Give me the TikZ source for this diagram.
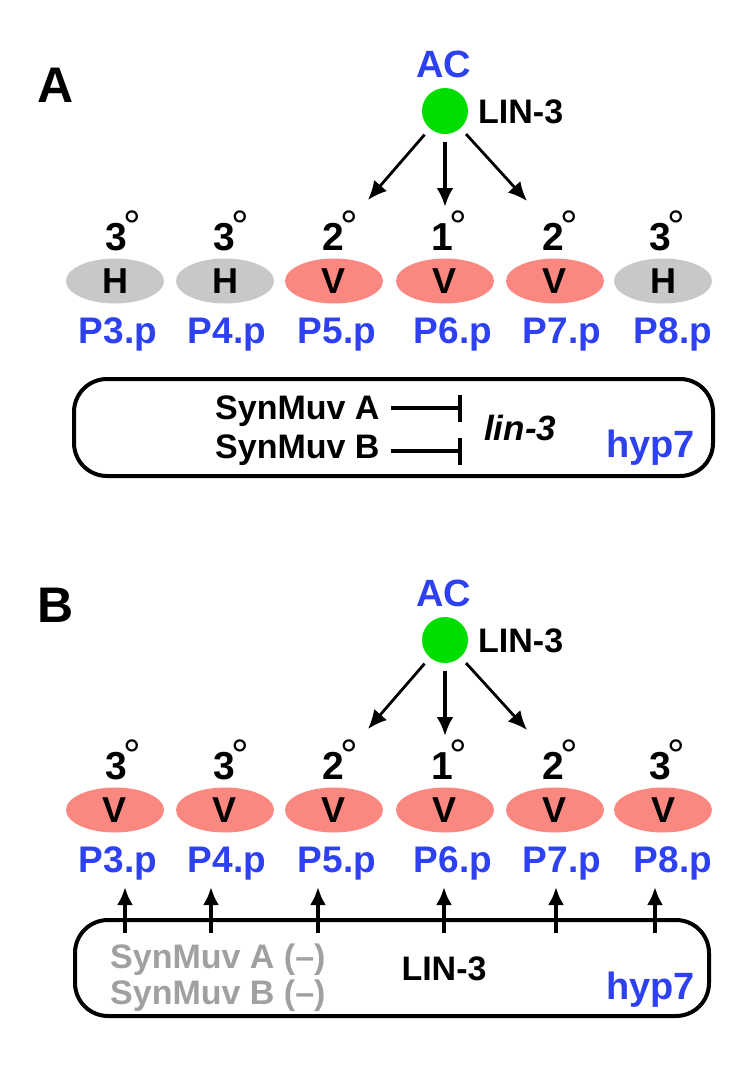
\documentclass[tikz,border=0pt]{standalone}
\usepackage{fontspec}
\setmainfont{Liberation Sans}
\usetikzlibrary{arrows.meta,shapes.geometric}
\definecolor{blu}{RGB}{45,65,240}
\definecolor{grn}{RGB}{0,222,0}
\definecolor{pnk}{RGB}{250,135,128}
\definecolor{gry}{RGB}{200,200,200}
\definecolor{gtx}{RGB}{160,160,160}
\newcommand{\dg}{\kern-4pt\raisebox{9pt}{\fontsize{44}{44}\selectfont\mdseries °}}
\begin{document}
\begin{tikzpicture}[x=1pt,y=-1pt,
  plabel/.style={text=blu, font=\fontsize{37}{40}\selectfont\bfseries, inner sep=0, anchor=base},
  panel/.style={font=\fontsize{50}{52}\selectfont\bfseries, inner sep=0},
  deg/.style={font=\fontsize{39}{40}\selectfont\bfseries, inner sep=0, anchor=base},
  cellbase/.style={ellipse, minimum width=98pt, minimum height=45pt, inner sep=0, font=\fontsize{36}{38}\selectfont\bfseries},
  hcell/.style={cellbase, fill=gry},
  vcell/.style={cellbase, fill=pnk},
  txt/.style={font=\fontsize{34}{36}\selectfont\bfseries, inner sep=0},
  blutxt/.style={text=blu, font=\fontsize{38}{40}\selectfont\bfseries, inner sep=0},
  accell/.style={circle, fill=grn, minimum size=46pt, inner sep=0},
  sig/.style={-{Latex[length=19pt,width=17pt]}, line width=2.8pt, shorten <=8pt},
  sigm/.style={-{Latex[length=19pt,width=17pt]}, line width=3.8pt, shorten <=8pt},
  uparr/.style={-{Latex[length=18pt,width=16pt]}, line width=4pt},
  inh/.style={-{Bar[width=27pt,line width=4pt]}, line width=4pt},
  hypbox/.style={draw, line width=4pt, rounded corners=33pt, inner sep=0}
]
\useasboundingbox (0,0) rectangle (750,1074);

% ---------- Panel A ----------
\node[panel] (labA) at (56,85) {A};
\node[blutxt] (acA) at (444,64) {AC};
\node[accell] (cA) at (445,111) {};
\node[txt, anchor=west] (linA) at (478,112) {LIN-3};
\coordinate (tAl) at (368,200);
\coordinate (tAm) at (445,207);
\coordinate (tAr) at (527,201);
\draw[sig] (cA) -- (tAl);
\draw[sigm] (cA) -- (tAm);
\draw[sig] (cA) -- (tAr);

\node[deg] (dA3) at (123,250) {3\dg};
\node[deg] (dA4) at (231,250) {3\dg};
\node[deg] (dA5) at (340,250) {2\dg};
\node[deg] (dA6) at (449,250) {1\dg};
\node[deg] (dA7) at (560,250) {2\dg};
\node[deg] (dA8) at (667,250) {3\dg};

\node[hcell] (eA3) at (115,281) {H};
\node[hcell] (eA4) at (225,281) {H};
\node[vcell] (eA5) at (334,281) {V};
\node[vcell] (eA6) at (445,281) {V};
\node[vcell] (eA7) at (555,281) {V};
\node[hcell] (eA8) at (663,281) {H};

\node[plabel] (pA3) at (118,343) {P3.p};
\node[plabel] (pA4) at (227,343) {P4.p};
\node[plabel] (pA5) at (337,343) {P5.p};
\node[plabel] (pA6) at (453,343) {P6.p};
\node[plabel] (pA7) at (562,343) {P7.p};
\node[plabel] (pA8) at (673,343) {P8.p};

\node[hypbox, minimum width=639pt, minimum height=97pt] (boxA) at (393.5,427.5) {};
\node[txt, anchor=base west] (smA) at (215,419) {SynMuv A};
\node[txt, anchor=base west] (smB) at (215,458) {SynMuv B};
\coordinate (iA1) at (391,408);
\coordinate (iA2) at (462,408);
\coordinate (iB1) at (391,451);
\coordinate (iB2) at (462,451);
\draw[inh] (iA1) -- (iA2);
\draw[inh] (iB1) -- (iB2);
\node[txt, anchor=base west, font=\fontsize{35}{36}\selectfont\bfseries\itshape] (lin3g) at (484,440) {lin-3};
\node[blutxt, anchor=base west] (hypA) at (606,457) {hyp7};

% ---------- Panel B ----------
\node[panel] (labB) at (56,605) {B};
\node[blutxt] (acB) at (444,593) {AC};
\node[accell] (cB) at (445,640) {};
\node[txt, anchor=west] (linB) at (478,641) {LIN-3};
\coordinate (tBl) at (368,729);
\coordinate (tBm) at (445,736);
\coordinate (tBr) at (527,730);
\draw[sig] (cB) -- (tBl);
\draw[sigm] (cB) -- (tBm);
\draw[sig] (cB) -- (tBr);

\node[deg] (dB3) at (123,779) {3\dg};
\node[deg] (dB4) at (231,779) {3\dg};
\node[deg] (dB5) at (340,779) {2\dg};
\node[deg] (dB6) at (449,779) {1\dg};
\node[deg] (dB7) at (560,779) {2\dg};
\node[deg] (dB8) at (667,779) {3\dg};

\node[vcell] (eB3) at (115,810) {V};
\node[vcell] (eB4) at (225,810) {V};
\node[vcell] (eB5) at (334,810) {V};
\node[vcell] (eB6) at (445,810) {V};
\node[vcell] (eB7) at (555,810) {V};
\node[vcell] (eB8) at (663,810) {V};

\node[plabel] (pB3) at (118,872) {P3.p};
\node[plabel] (pB4) at (227,872) {P4.p};
\node[plabel] (pB5) at (337,872) {P5.p};
\node[plabel] (pB6) at (453,872) {P6.p};
\node[plabel] (pB7) at (562,872) {P7.p};
\node[plabel] (pB8) at (673,872) {P8.p};

\node[hypbox, minimum width=634pt, minimum height=96pt] (boxB) at (392,968) {};
\foreach \n/\x in {3/125,4/211,5/318,6/444,7/556,8/655}{
  \coordinate (u\n a) at (\x,933);
  \coordinate (u\n b) at (\x,887);
  \draw[uparr] (u\n a) -- (u\n b);
}
\node[txt, text=gtx, anchor=base west] (gA) at (110,968) {SynMuv A (–)};
\node[txt, text=gtx, anchor=base west] (gB) at (110,1004) {SynMuv B (–)};
\node[txt, anchor=base] (linBox) at (444,980) {LIN-3};
\node[blutxt, anchor=base west] (hypB) at (606,999) {hyp7};
\end{tikzpicture}
\end{document}
